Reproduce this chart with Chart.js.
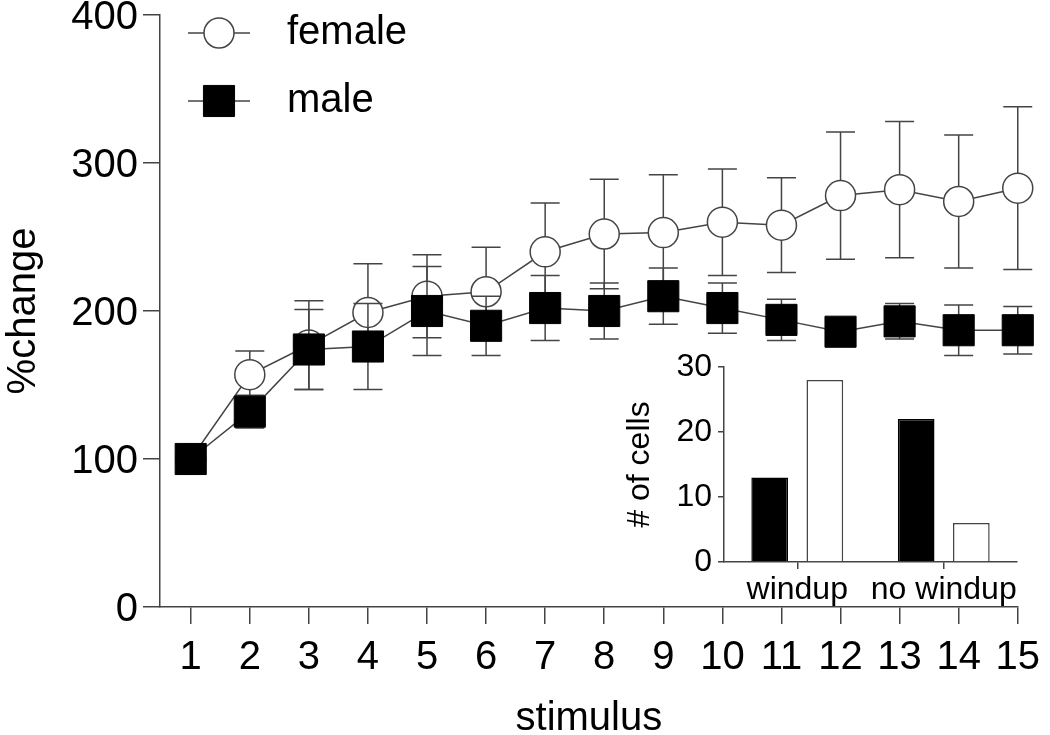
<!DOCTYPE html>
<html>
<head>
<meta charset="utf-8">
<script src="https://cdn.jsdelivr.net/npm/chart.js@4.4.1/dist/chart.umd.min.js"></script>
<style>
  body { margin: 0; background: #fff; }
  #wrap { position: relative; width: 1050px; height: 735px; }
  #mainChart { position: absolute; left: 0; top: 0; }
  #insetChart { position: absolute; left: 580px; top: 340px; }
</style>
</head>
<body>
<div id="wrap">
  <canvas id="mainChart" width="1050" height="735"></canvas>
  <canvas id="insetChart" width="450" height="270"></canvas>
</div>
<script>
// main panel: % change per stimulus
const stimulus = [1, 2, 3, 4, 5, 6, 7, 8, 9, 10, 11, 12, 13, 14, 15];
const femaleMean = [100, 157, 177, 199, 210, 213, 240, 252, 253, 260, 258, 278, 282, 274, 283];
const femaleErr  = [0, 16, 30, 33, 28, 30, 33, 37, 39, 36, 32, 43, 46, 45, 55];
const maleMean   = [100, 132, 174, 176, 200, 190, 202, 200, 210, 202, 194, 186, 193, 187, 187];
const maleErr    = [0, 11, 27, 29, 30, 20, 22, 19, 19, 17, 14, 8, 12, 17, 16];
const yTicks = [0, 100, 200, 300, 400];

// inset: number of cells
const cellGroups = ['windup', 'no windup'];
const maleCells = [13, 22];
const femaleCells = [28, 6];

const FONT = "'Liberation Sans', Arial, sans-serif";
const LINE = '#444';

const errorBars = {
  id: 'errorBars',
  beforeDatasetDraw(chart, args) {
    const ds = chart.data.datasets[args.index];
    if (!ds.errors) return;
    const xs = chart.scales.x, ys = chart.scales.y;
    const ctx = chart.ctx;
    ctx.save();
    ctx.strokeStyle = LINE;
    ctx.lineWidth = 1.5;
    ds.data.forEach((p, i) => {
      const e = ds.errors[i];
      if (!e) return;
      const px = xs.getPixelForValue(p.x);
      const top = ys.getPixelForValue(p.y + e);
      const bot = ys.getPixelForValue(p.y - e);
      ctx.beginPath();
      ctx.moveTo(px, top); ctx.lineTo(px, bot);
      ctx.moveTo(px - 14.5, top); ctx.lineTo(px + 14.5, top);
      ctx.moveTo(px - 14.5, bot); ctx.lineTo(px + 14.5, bot);
      ctx.stroke();
    });
    ctx.restore();
  }
};

// legend with a short line through each marker, top left
const lineLegend = {
  id: 'lineLegend',
  afterDraw(chart) {
    const ctx = chart.ctx;
    const x0 = 219, y0 = 33;
    chart.data.datasets.forEach((ds, i) => {
      const y = y0 + i * 68;
      ctx.save();
      ctx.strokeStyle = LINE;
      ctx.lineWidth = 1.5;
      ctx.beginPath();
      ctx.moveTo(x0 - 31, y); ctx.lineTo(x0 + 31, y);
      ctx.stroke();
      ctx.fillStyle = ds.pointBackgroundColor;
      ctx.strokeStyle = ds.pointBorderColor;
      ctx.lineWidth = ds.pointBorderWidth;
      Chart.helpers.drawPoint(ctx, {
        pointStyle: ds.pointStyle, radius: ds.pointRadius, rotation: 0, borderWidth: ds.pointBorderWidth
      }, x0, y);
      ctx.fillStyle = '#000';
      ctx.font = '40px ' + FONT;
      ctx.textBaseline = 'middle';
      ctx.textAlign = 'left';
      ctx.fillText(ds.label, 287, y);
      ctx.restore();
    });
  }
};

new Chart(document.getElementById('mainChart'), {
  type: 'line',
  data: {
    datasets: [
      {
        label: 'female',
        data: stimulus.map((s, i) => ({ x: s, y: femaleMean[i] })),
        errors: femaleErr,
        order: 1,
        borderColor: LINE,
        borderWidth: 1.5,
        pointStyle: 'circle',
        pointRadius: 15,
        pointBackgroundColor: '#fff',
        pointBorderColor: LINE,
        pointBorderWidth: 1.5,
        clip: false
      },
      {
        label: 'male',
        data: stimulus.map((s, i) => ({ x: s, y: maleMean[i] })),
        errors: maleErr,
        order: 0,
        borderColor: LINE,
        borderWidth: 1.5,
        pointStyle: 'rect',
        pointRadius: 22,
        pointBackgroundColor: '#000',
        pointBorderColor: '#000',
        pointBorderWidth: 1,
        clip: false
      }
    ]
  },
  options: {
    responsive: false,
    animation: false,
    devicePixelRatio: 1,
    layout: { autoPadding: false, padding: { left: 0, right: 31, top: 15, bottom: 0 } },
    plugins: { legend: { display: false }, tooltip: { enabled: false } },
    scales: {
      x: {
        type: 'linear',
        min: 0.48,
        max: 15,
        afterBuildTicks: s => { s.ticks = stimulus.map(v => ({ value: v })); },
        afterFit: s => { s.height = 128; },
        grid: { drawOnChartArea: false, tickLength: 17, color: LINE, lineWidth: 1.5 },
        border: { color: LINE, width: 1.5 },
        ticks: { font: { size: 40, family: FONT }, color: '#000', padding: 10, maxRotation: 0, autoSkip: false },
        title: { display: true, text: 'stimulus', font: { size: 40, family: FONT, lineHeight: 0.8 }, color: '#000', padding: 0 }
      },
      y: {
        min: 0,
        max: 400,
        afterBuildTicks: s => { s.ticks = yTicks.map(v => ({ value: v })); },
        afterFit: s => { s.width = 160; },
        grid: { drawOnChartArea: false, tickLength: 17, color: LINE, lineWidth: 1.5 },
        border: { color: LINE, width: 1.5 },
        ticks: { font: { size: 40, family: FONT, lineHeight: 0.4 }, color: '#000', padding: 5, labelOffset: 3 },
        title: { display: true, text: '%change', font: { size: 40, family: FONT }, color: '#000', padding: 0 }
      }
    }
  },
  plugins: [errorBars, lineLegend]
});

new Chart(document.getElementById('insetChart'), {
  type: 'bar',
  data: {
    labels: cellGroups,
    datasets: [
      { label: 'male', data: maleCells, backgroundColor: '#000', borderColor: '#000', borderWidth: 1.5 },
      { label: 'female', data: femaleCells, backgroundColor: '#fff', borderColor: LINE, borderWidth: 1.5 }
    ]
  },
  options: {
    responsive: false,
    animation: false,
    devicePixelRatio: 1,
    categoryPercentage: 0.753,
    barPercentage: 0.665,
    layout: { padding: { left: 0, right: 13, top: 27, bottom: 0 } },
    plugins: { legend: { display: false }, tooltip: { enabled: false } },
    scales: {
      x: {
        afterFit: s => { s.height = 48; },
        grid: { offset: false, drawOnChartArea: false, tickLength: 7, color: LINE, lineWidth: 1.5 },
        border: { color: LINE, width: 1.5 },
        ticks: { font: { size: 32, family: FONT }, color: '#000', padding: 2, maxRotation: 0, autoSkip: false }
      },
      y: {
        min: 0,
        max: 30,
        ticks: { stepSize: 10, font: { size: 32, family: FONT, lineHeight: 0.7 }, color: '#000', padding: 6 },
        afterFit: s => { s.width = 144; },
        grid: { drawOnChartArea: false, tickLength: 6, color: LINE, lineWidth: 1.5 },
        border: { color: LINE, width: 1.5 },
        title: { display: true, text: '# of cells', font: { size: 32, family: FONT }, color: '#000', padding: { top: 41 } }
      }
    }
  }
});
</script>
</body>
</html>
